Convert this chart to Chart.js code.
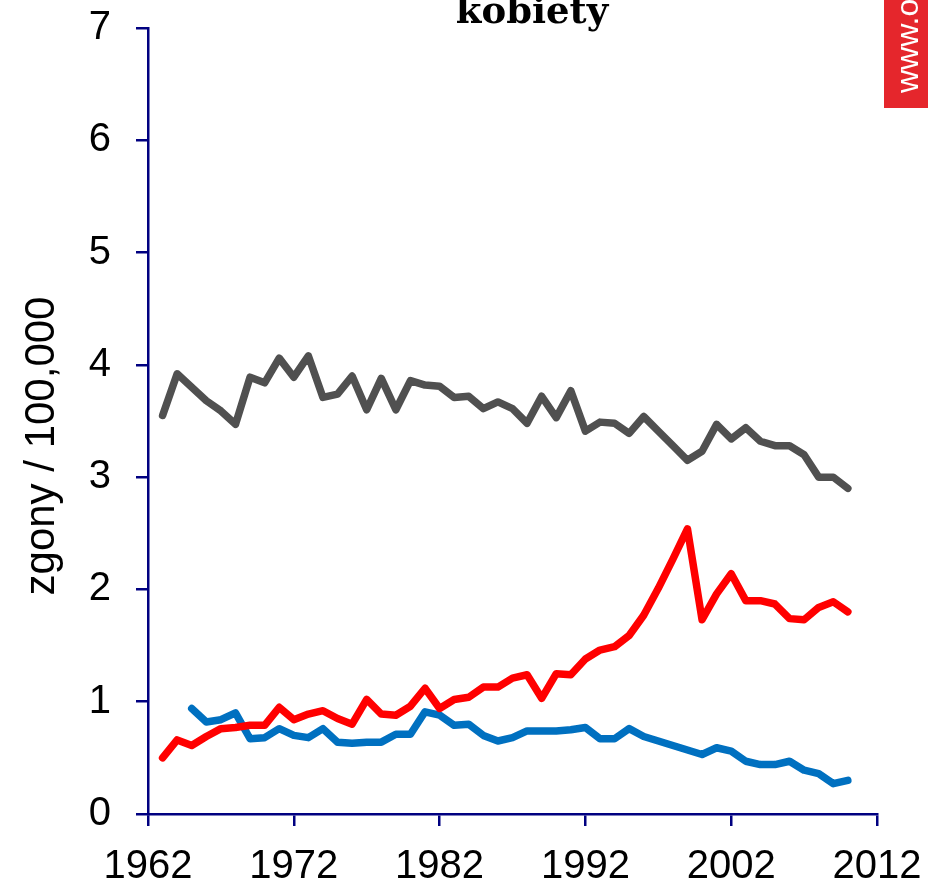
<!DOCTYPE html>
<html>
<head>
<meta charset="utf-8">
<script src="https://cdn.jsdelivr.net/npm/chart.js@4/dist/chart.umd.min.js"></script>
<style>
  body { margin: 0; background: #fff; }
  #chartContainer { width: 928px; height: 883px; }
</style>
</head>
<body>
<div id="chartContainer"><canvas id="myChart" width="928" height="883"></canvas></div>
<script>
// data (deaths / 100,000, women)
var yearsGray = [];
for (var y = 1963; y <= 2010; y++) yearsGray.push(y);
var yearsRed = yearsGray.slice();
var yearsBlue = yearsGray.slice(2); // blue starts in 1965

var grayValues = [3.55, 3.92, 3.80, 3.68, 3.59, 3.47, 3.89, 3.84, 4.06, 3.89,
  4.08, 3.71, 3.74, 3.90, 3.60, 3.88, 3.60, 3.86, 3.82, 3.81,
  3.71, 3.72, 3.61, 3.67, 3.61, 3.48, 3.72, 3.53, 3.77, 3.41,
  3.49, 3.48, 3.39, 3.54, 3.41, 3.28, 3.15, 3.23, 3.47, 3.34,
  3.44, 3.32, 3.28, 3.28, 3.20, 3.00, 3.00, 2.90];

var redValues = [0.50, 0.66, 0.61, 0.69, 0.76, 0.77, 0.79, 0.79, 0.95, 0.84,
  0.89, 0.92, 0.85, 0.80, 1.02, 0.89, 0.88, 0.96, 1.12, 0.94,
  1.02, 1.04, 1.13, 1.13, 1.21, 1.24, 1.03, 1.25, 1.24, 1.38,
  1.46, 1.49, 1.59, 1.77, 2.01, 2.27, 2.54, 1.73, 1.96, 2.14,
  1.90, 1.90, 1.87, 1.74, 1.73, 1.84, 1.89, 1.80];

var blueValues = [0.94, 0.82, 0.84, 0.90, 0.67, 0.68, 0.76, 0.70, 0.68, 0.76,
  0.64, 0.63, 0.64, 0.64, 0.71, 0.71, 0.91, 0.88, 0.79, 0.80,
  0.70, 0.65, 0.68, 0.74, 0.74, 0.74, 0.75, 0.77, 0.67, 0.67,
  0.76, 0.69, 0.65, 0.61, 0.57, 0.53, 0.59, 0.56, 0.47, 0.44,
  0.44, 0.47, 0.39, 0.36, 0.27, 0.30];

var xTicks = [1962, 1972, 1982, 1992, 2002, 2012];
var yTicks = [0, 1, 2, 3, 4, 5, 6, 7];

var chartTitle = "kobiety";
var yTitle = "zgony / 100,000";
var watermark = "www.onkologia.org.pl";

function toPoints(years, values) {
  return years.map(function (yr, i) { return { x: yr, y: values[i] }; });
}

var axisColor = "#000080";
var sansFamily = "'Liberation Sans', Arial, sans-serif";
var tickFont = { family: sansFamily, size: 40 };

// title, y axis title and side band
var decorations = {
  id: "decorations",
  afterDraw: function (chart) {
    var ctx = chart.ctx;
    ctx.save();
    ctx.fillStyle = "#000";
    ctx.font = "bold 37px 'DejaVu Serif', Cambria, serif";
    ctx.textAlign = "center";
    ctx.textBaseline = "alphabetic";
    ctx.fillText(chartTitle, 532, 23);

    // y axis title, a bit below the middle of the axis as in the original
    ctx.save();
    ctx.translate(54, 446);
    ctx.rotate(-Math.PI / 2);
    ctx.font = "42px " + sansFamily;
    ctx.textAlign = "center";
    ctx.fillText(yTitle, 0, 0);
    ctx.restore();

    ctx.beginPath();
    ctx.rect(884, 0, 44, 108);
    ctx.fillStyle = "#e5262c";
    ctx.fill();
    ctx.clip();
    ctx.translate(918, 93);
    ctx.rotate(-Math.PI / 2);
    ctx.fillStyle = "#fff";
    ctx.font = "32px " + sansFamily;
    ctx.textAlign = "left";
    ctx.fillText(watermark, 0, 0);
    ctx.restore();
  }
};

var ctx = document.getElementById("myChart").getContext("2d");
var chart = new Chart(ctx, {
  type: "line",
  data: {
    datasets: [
      { label: "gray", data: toPoints(yearsGray, grayValues), borderColor: "#505050" },
      { label: "red", data: toPoints(yearsRed, redValues), borderColor: "#ff0000" },
      { label: "blue", data: toPoints(yearsBlue, blueValues), borderColor: "#0070c0" }
    ]
  },
  options: {
    responsive: false,
    animation: false,
    layout: { padding: { top: 28, right: 51, left: 0, bottom: 0 } },
    elements: {
      point: { radius: 0 },
      line: { borderWidth: 7.5, tension: 0, borderCapStyle: "round", borderJoinStyle: "round", fill: false }
    },
    plugins: {
      legend: { display: false },
      tooltip: { enabled: false }
    },
    scales: {
      x: {
        type: "linear",
        min: xTicks[0],
        max: xTicks[xTicks.length - 1],
        afterBuildTicks: function (scale) {
          scale.ticks = xTicks.map(function (v) { return { value: v }; });
        },
        afterFit: function (scale) {
          scale.height = 69;
          scale.paddingLeft = 0;
          scale.paddingRight = 0;
        },
        border: { color: axisColor, width: 2.5 },
        grid: { drawOnChartArea: false, drawTicks: true, tickLength: 12, color: axisColor, lineWidth: 2.5 },
        ticks: {
          color: "#000",
          font: tickFont,
          padding: 17,
          maxRotation: 0,
          callback: function (v) { return String(v); }
        }
      },
      y: {
        min: yTicks[0],
        max: yTicks[yTicks.length - 1],
        afterBuildTicks: function (scale) {
          scale.ticks = yTicks.map(function (v) { return { value: v }; });
        },
        afterFit: function (scale) {
          scale.width = 148;
          scale.paddingTop = 0;
          scale.paddingBottom = 0;
        },
        border: { color: axisColor, width: 2.5 },
        grid: { drawOnChartArea: false, drawTicks: true, tickLength: 12, color: axisColor, lineWidth: 2.5 },
        ticks: { color: "#000", font: tickFont, padding: 25 }
      }
    }
  },
  plugins: [decorations]
});
</script>
</body>
</html>
